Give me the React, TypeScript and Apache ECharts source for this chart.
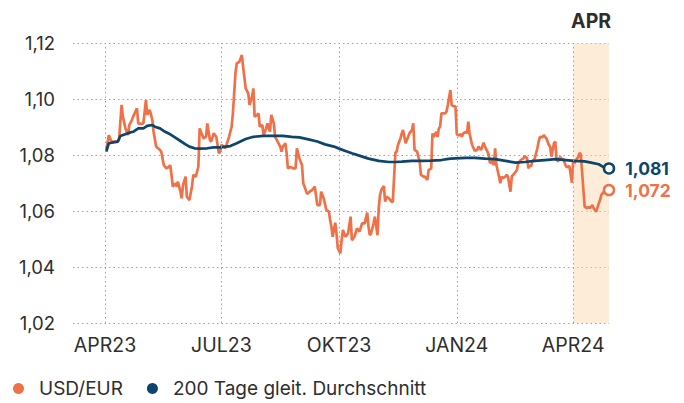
import React, { useEffect, useRef } from "react";
import * as echarts from "echarts";

const seriesNames = ["USD/EUR", "200 Tage gleit. Durchschnitt"];

const usdDates = [
  "2023-04-02","2023-04-04","2023-04-06","2023-04-09","2023-04-11","2023-04-12","2023-04-14","2023-04-15","2023-04-17","2023-04-19",
  "2023-04-20","2023-04-22","2023-04-23","2023-04-26","2023-04-27","2023-04-30","2023-05-01","2023-05-03","2023-05-04","2023-05-06",
  "2023-05-08","2023-05-09","2023-05-11","2023-05-14","2023-05-15","2023-05-17","2023-05-19","2023-05-21","2023-05-22","2023-05-23",
  "2023-05-24","2023-05-26","2023-05-27","2023-05-28","2023-05-30","2023-05-31","2023-06-01","2023-06-03","2023-06-04","2023-06-06",
  "2023-06-08","2023-06-09","2023-06-11","2023-06-13","2023-06-14","2023-06-16","2023-06-17","2023-06-19","2023-06-20","2023-06-22",
  "2023-06-23","2023-06-25","2023-06-27","2023-06-29","2023-06-30","2023-07-01","2023-07-03","2023-07-04","2023-07-05","2023-07-07",
  "2023-07-09","2023-07-10","2023-07-12","2023-07-13","2023-07-15","2023-07-16","2023-07-17","2023-07-18","2023-07-20","2023-07-22",
  "2023-07-23","2023-07-25","2023-07-26","2023-07-27","2023-07-29","2023-07-30","2023-07-31","2023-08-02","2023-08-03","2023-08-05",
  "2023-08-06","2023-08-08","2023-08-09","2023-08-11","2023-08-12","2023-08-14","2023-08-16","2023-08-17","2023-08-18","2023-08-20",
  "2023-08-21","2023-08-22","2023-08-24","2023-08-26","2023-08-28","2023-08-29","2023-08-31","2023-09-02","2023-09-03","2023-09-04",
  "2023-09-06","2023-09-08","2023-09-10","2023-09-12","2023-09-14","2023-09-16","2023-09-17","2023-09-19","2023-09-21","2023-09-23",
  "2023-09-24","2023-09-25","2023-09-26","2023-09-28","2023-09-29","2023-09-30","2023-10-02","2023-10-03","2023-10-04","2023-10-06",
  "2023-10-08","2023-10-10","2023-10-11","2023-10-13","2023-10-15","2023-10-17","2023-10-19","2023-10-21","2023-10-23","2023-10-24",
  "2023-10-25","2023-10-26","2023-10-28","2023-10-29","2023-10-31","2023-11-01","2023-11-02","2023-11-03","2023-11-05","2023-11-06",
  "2023-11-07","2023-11-09","2023-11-11","2023-11-12","2023-11-14","2023-11-15","2023-11-16","2023-11-18","2023-11-19","2023-11-20",
  "2023-11-22","2023-11-23","2023-11-24","2023-11-25","2023-11-27","2023-11-28","2023-11-29","2023-12-01","2023-12-03","2023-12-04",
  "2023-12-06","2023-12-07","2023-12-09","2023-12-10","2023-12-12","2023-12-13","2023-12-14","2023-12-16","2023-12-17","2023-12-18",
  "2023-12-19","2023-12-20","2023-12-23","2023-12-24","2023-12-25","2023-12-27","2023-12-28","2023-12-29","2023-12-31","2024-01-01",
  "2024-01-02","2024-01-04","2024-01-05","2024-01-06","2024-01-08","2024-01-09","2024-01-10","2024-01-11","2024-01-13","2024-01-15",
  "2024-01-17","2024-01-18","2024-01-20","2024-01-22","2024-01-23","2024-01-25","2024-01-26","2024-01-27","2024-01-28","2024-01-30",
  "2024-01-31","2024-02-01","2024-02-03","2024-02-04","2024-02-05","2024-02-06","2024-02-08","2024-02-09","2024-02-10","2024-02-12",
  "2024-02-13","2024-02-14","2024-02-16","2024-02-17","2024-02-18","2024-02-20","2024-02-21","2024-02-22","2024-02-23","2024-02-25",
  "2024-02-26","2024-02-27","2024-02-28","2024-02-29","2024-03-02","2024-03-04","2024-03-05","2024-03-06","2024-03-08","2024-03-09",
  "2024-03-10","2024-03-11","2024-03-13","2024-03-14","2024-03-15","2024-03-17","2024-03-18","2024-03-19","2024-03-20","2024-03-22",
  "2024-03-23","2024-03-24","2024-03-26","2024-03-27","2024-03-28","2024-03-29","2024-03-31","2024-04-01","2024-04-02","2024-04-04",
  "2024-04-05","2024-04-06","2024-04-07","2024-04-09","2024-04-10","2024-04-12","2024-04-13","2024-04-14","2024-04-16","2024-04-17",
  "2024-04-18","2024-04-19","2024-04-21","2024-04-22","2024-04-23","2024-04-25","2024-04-26","2024-04-29"
];

const usdValues = [
  1.0818,1.0871,1.0848,1.0848,1.0848,1.0854,1.0979,1.0937,1.0895,1.0871,
  1.0907,1.0925,1.0937,1.0967,1.0913,1.0911,1.0913,1.0996,1.0943,1.0961,
  1.0925,1.0883,1.0830,1.0818,1.0812,1.0764,1.0752,1.0758,1.0764,1.0729,
  1.0687,1.0699,1.0687,1.0705,1.0669,1.0645,1.0693,1.0723,1.0651,1.0639,
  1.0687,1.0729,1.0723,1.0758,1.0895,1.0871,1.0860,1.0865,1.0913,1.0854,
  1.0848,1.0878,1.0865,1.0806,1.0812,1.0836,1.0830,1.0824,1.0836,1.0865,
  1.0901,1.0949,1.1092,1.1127,1.1133,1.1145,1.1157,1.1115,1.1038,1.1020,
  1.0979,1.1008,1.1038,1.0937,1.0943,1.0949,1.0901,1.0907,1.0871,1.0895,
  1.0913,1.0883,1.0943,1.0913,1.0865,1.0848,1.0830,1.0812,1.0830,1.0842,
  1.0806,1.0752,1.0758,1.0752,1.0752,1.0824,1.0788,1.0764,1.0699,1.0687,
  1.0661,1.0669,1.0675,1.0687,1.0621,1.0621,1.0669,1.0645,1.0604,1.0598,
  1.0568,1.0544,1.0508,1.0558,1.0520,1.0467,1.0449,1.0496,1.0532,1.0508,
  1.0520,1.0580,1.0496,1.0508,1.0538,1.0526,1.0556,1.0556,1.0594,1.0544,
  1.0514,1.0520,1.0556,1.0580,1.0514,1.0610,1.0657,1.0675,1.0689,1.0633,
  1.0651,1.0645,1.0633,1.0633,1.0808,1.0812,1.0836,1.0860,1.0877,1.0889,
  1.0842,1.0854,1.0865,1.0877,1.0889,1.0913,1.0818,1.0812,1.0776,1.0729,
  1.0723,1.0723,1.0711,1.0746,1.0752,1.0877,1.0865,1.0883,1.0865,1.0895,
  1.0901,1.0949,1.0949,1.0955,1.0979,1.1032,1.0979,1.0975,1.0973,1.0875,
  1.0870,1.0874,1.0865,1.0877,1.0883,1.0877,1.0919,1.0877,1.0836,1.0815,
  1.0818,1.0830,1.0818,1.0844,1.0830,1.0812,1.0800,1.0770,1.0782,1.0764,
  1.0824,1.0764,1.0723,1.0699,1.0723,1.0717,1.0723,1.0729,1.0723,1.0669,
  1.0723,1.0729,1.0740,1.0746,1.0770,1.0782,1.0785,1.0788,1.0796,1.0788,
  1.0752,1.0764,1.0758,1.0776,1.0788,1.0824,1.0848,1.0865,1.0863,1.0871,
  1.0865,1.0860,1.0836,1.0830,1.0794,1.0842,1.0848,1.0788,1.0776,1.0794,
  1.0782,1.0788,1.0764,1.0756,1.0758,1.0761,1.0701,1.0782,1.0770,1.0788,
  1.0792,1.0808,1.0800,1.0675,1.0615,1.0610,1.0615,1.0610,1.0621,1.0610,
  1.0604,1.0598,1.0627,1.0639,1.0657,1.0669,1.0675,1.0675
];

const maDates = [
  "2023-04-02","2023-04-04","2023-04-11","2023-04-13","2023-04-19","2023-04-23","2023-04-27","2023-05-01","2023-05-04","2023-05-08",
  "2023-05-10","2023-05-14","2023-05-18","2023-05-22","2023-05-26","2023-05-30","2023-06-03","2023-06-06","2023-06-10","2023-06-14",
  "2023-06-20","2023-06-25","2023-06-30","2023-07-08","2023-07-13","2023-07-20","2023-07-26","2023-08-03","2023-08-11","2023-08-18",
  "2023-08-25","2023-08-31","2023-09-07","2023-09-14","2023-09-20","2023-09-27","2023-10-02","2023-10-06","2023-10-11","2023-10-18",
  "2023-10-24","2023-11-01","2023-11-09","2023-11-14","2023-11-19","2023-11-27","2023-12-05","2023-12-12","2023-12-20","2023-12-27",
  "2024-01-04","2024-01-08","2024-01-15","2024-01-23","2024-01-31","2024-02-08","2024-02-16","2024-02-23","2024-03-02","2024-03-10",
  "2024-03-18","2024-03-26","2024-04-02","2024-04-10","2024-04-15","2024-04-21","2024-04-25","2024-04-29"
];

const maValues = [
  1.0812,1.0842,1.0848,1.0868,1.0878,1.0883,1.0895,1.0895,1.0904,1.0907,
  1.0901,1.0895,1.0883,1.0874,1.0862,1.0850,1.0838,1.0830,1.0824,1.0823,
  1.0824,1.0827,1.0827,1.0832,1.0842,1.0857,1.0865,1.0868,1.0868,1.0868,
  1.0865,1.0863,1.0856,1.0848,1.0838,1.0830,1.0821,1.0814,1.0806,1.0796,
  1.0787,1.0779,1.0775,1.0775,1.0776,1.0779,1.0779,1.0780,1.0782,1.0787,
  1.0789,1.0790,1.0790,1.0787,1.0785,1.0779,1.0773,1.0775,1.0779,1.0782,
  1.0785,1.0782,1.0779,1.0777,1.0773,1.0767,1.0756,1.0752
];

const quarterDates = ["2023-04-01", "2023-07-01", "2023-10-01", "2024-01-01", "2024-04-01"];
const quarterLabels = ["APR23", "JUL23", "OKT23", "JAN24", "APR24"];
const axisStart = "2023-03-07";
const axisEnd = "2024-04-29";
const highlightStart = "2024-04-01";
const highlightLabel = "APR";
const usdEndLabel = "1,072";
const maEndLabel = "1,081";

const ORANGE = "#f07148";
const NAVY = "#0e456d";
const TEXT = "#2e2e2e";
const FONT = "Inter, 'Noto Sans', sans-serif";

const ts = (s: string) => {
  const [y, m, d] = s.split("-").map(Number);
  return new Date(y, m - 1, d).getTime();
};

function buildData(dates: string[], values: number[], color: string, endLabel: string) {
  return dates.map((d, i) => {
    if (i !== dates.length - 1) return [ts(d), values[i]];
    return {
      value: [ts(d), values[i]],
      symbol: "circle",
      symbolSize: 10,
      itemStyle: { color: "#ffffff", borderColor: color, borderWidth: 2.5 },
      label: {
        show: true,
        position: "right",
        distance: 10,
        formatter: endLabel,
        color: color,
        fontWeight: "bold",
        fontSize: 17.5,
        fontFamily: FONT,
      },
    };
  });
}

export default function App() {
  const ref = useRef<HTMLDivElement>(null);
  useEffect(() => {
    if (!ref.current) return;
    document.body.style.margin = "0";
    const chart = echarts.init(ref.current, null, { renderer: "svg" });
    const quarterTs = quarterDates.map(ts);
    const dotted = { type: [1.5, 3] as any, color: "#a3a3a3", width: 1 };
    chart.setOption({
      animation: false,
      textStyle: { fontFamily: FONT },
      grid: { left: 73, right: 75, top: 43, bottom: 80, containLabel: false },
      legend: {
        left: 13,
        top: 379,
        padding: 0,
        icon: "circle",
        itemWidth: 11,
        itemHeight: 11,
        itemGap: 24,
        textStyle: {
          fontSize: 19,
          lineHeight: 18,
          color: TEXT,
          fontFamily: FONT,
          padding: [0, 0, 0, 10],
        },
        data: seriesNames,
      },
      xAxis: {
        type: "time",
        min: ts(axisStart),
        max: ts(axisEnd),
        axisLine: { show: false },
        axisTick: { show: false },
        splitLine: { show: false },
        axisLabel: { show: false },
      },
      yAxis: {
        type: "value",
        min: 1.02,
        max: 1.12,
        interval: 0.02,
        axisLine: { show: false },
        axisTick: { show: false },
        splitLine: { show: true, lineStyle: dotted },
        axisLabel: {
          formatter: (v: number) => v.toFixed(2).replace(".", ","),
          fontSize: 18.5,
          color: TEXT,
          margin: 18,
          fontFamily: FONT,
        },
      },
      series: [
        {
          name: seriesNames[0],
          type: "line",
          color: ORANGE,
          symbol: "none",
          lineStyle: { color: ORANGE, width: 2.7 },
          z: 3,
          data: buildData(usdDates, usdValues, ORANGE, usdEndLabel),
          markArea: {
            silent: true,
            itemStyle: { color: "rgba(250, 214, 168, 0.45)" },
            label: {
              show: true,
              position: "top",
              distance: 12,
              formatter: highlightLabel,
              color: TEXT,
              fontWeight: "bold",
              fontSize: 19.5,
              fontFamily: FONT,
            },
            data: [[{ xAxis: ts(highlightStart) }, { xAxis: ts(axisEnd) }]],
          },
        },
        {
          name: seriesNames[1],
          type: "line",
          color: NAVY,
          symbol: "none",
          lineStyle: { color: NAVY, width: 2.7 },
          z: 4,
          data: buildData(maDates, maValues, NAVY, maEndLabel),
          markLine: {
            silent: true,
            symbol: ["none", "none"],
            lineStyle: dotted,
            label: {
              show: true,
              position: "start",
              distance: 12,
              color: TEXT,
              fontSize: 19.5,
              fontFamily: FONT,
            },
            data: quarterTs.map((q, i) => ({
              xAxis: q,
              label: { formatter: quarterLabels[i] },
            })),
          },
        },
      ],
    });
    return () => chart.dispose();
  }, []);
  return <div ref={ref} style={{ width: 684, height: 403 }} />;
}
